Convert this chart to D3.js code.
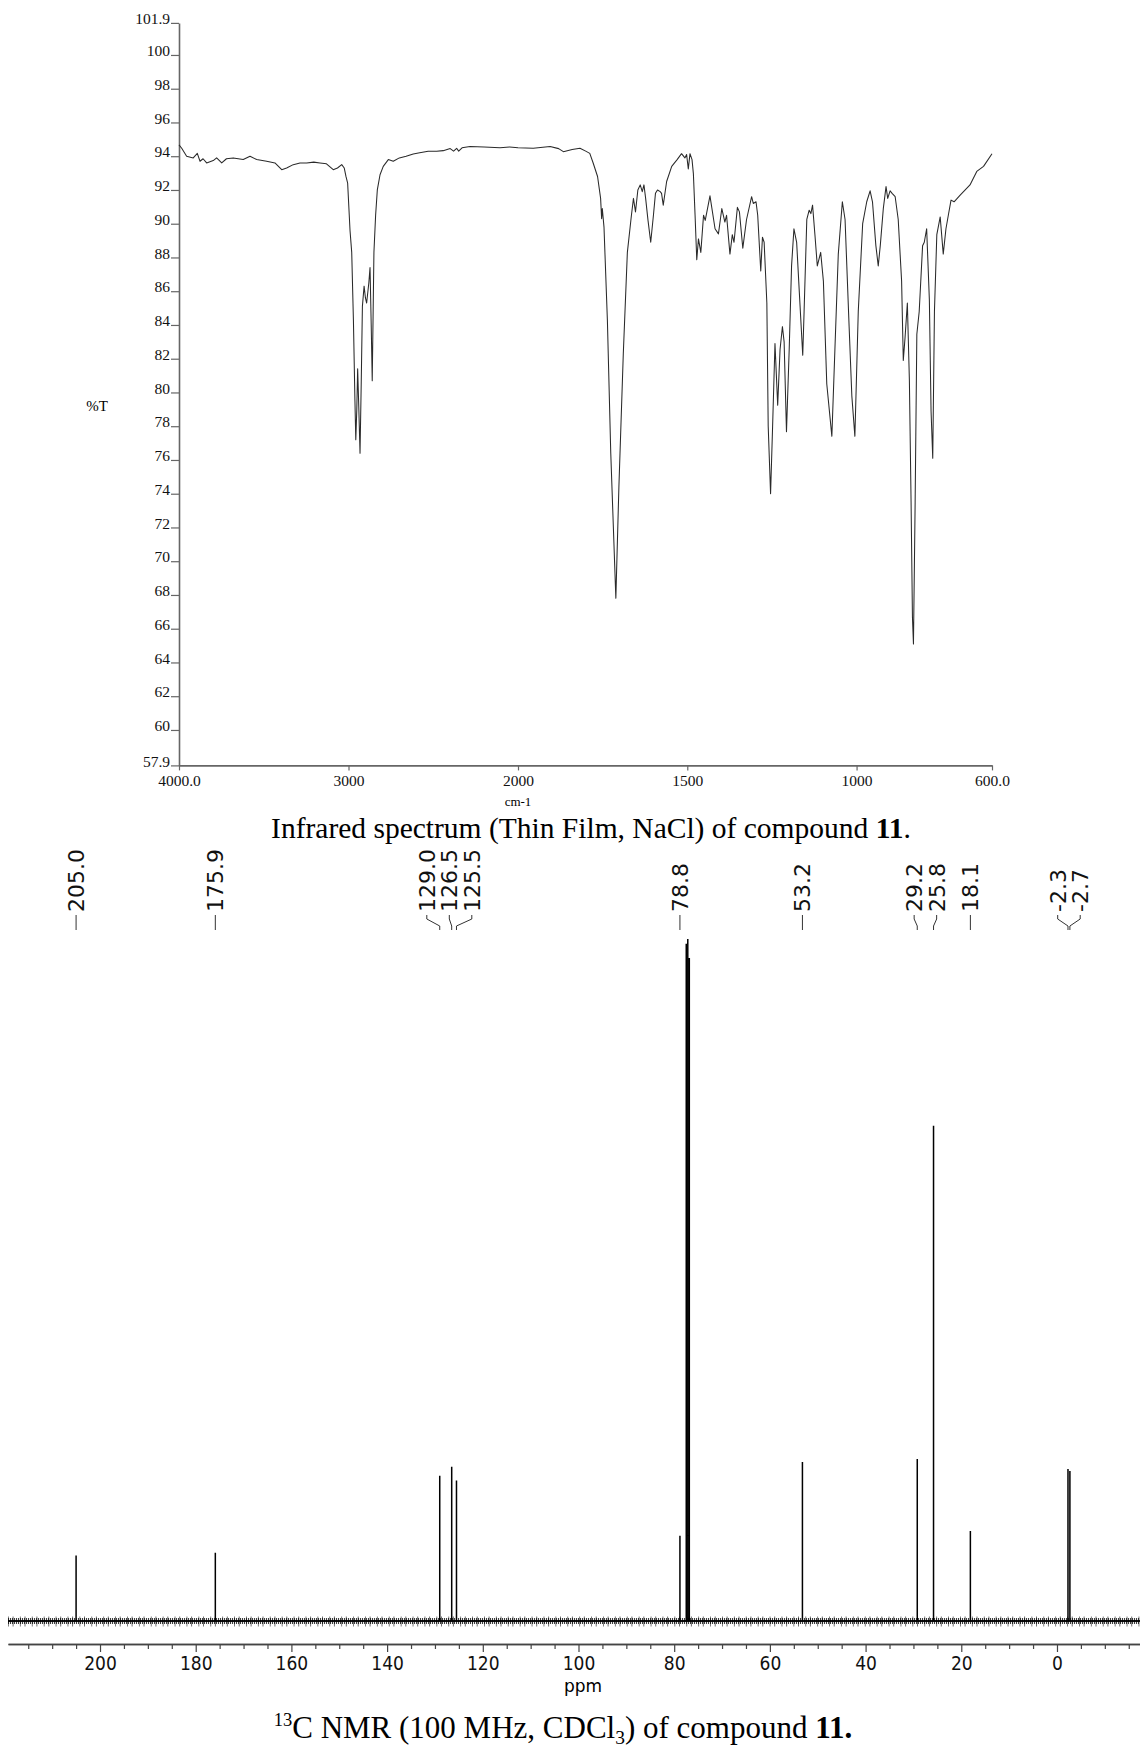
<!DOCTYPE html>
<html><head><meta charset="utf-8">
<script src="https://cdn.jsdelivr.net/npm/d3@7"></script>
<style>body{margin:0;background:#fff} svg{display:block}</style>
</head><body><svg id="c" width="1140" height="1760"></svg>
<script>
// ---------- IR spectrum data (cm-1, %T) ----------
const irWavenumbers = [4000,3984,3955,3916,3892,3876,3858,3837,3798,3778,3748,3720,3680,3621,3581,3542,3483,3434,3394,3365,3326,3286,3247,3205,3168,3130,3090,3065,3040,3025,3015,3005,2991,2981,2971,2962,2957,2951,2946,2939,2932,2925,2918,2908,2900,2893,2880,2873,2866,2860,2855,2850,2840,2830,2814,2795,2765,2736,2700,2660,2618,2580,2530,2480,2441,2400,2380,2362,2350,2330,2283,2200,2106,2050,2000,1955,1905,1880,1866,1840,1817,1800,1788,1778,1765,1756,1753,1751,1746,1736,1726,1711,1702,1689,1677,1665,1659,1653,1646,1639,1633,1628,1623,1616,1608,1600,1594,1588,1580,1576,1571,1561,1546,1530,1517,1507,1502,1497,1492,1486,1482,1477,1472,1467,1460,1452,1447,1433,1418,1408,1398,1389,1384,1374,1367,1362,1352,1346,1336,1325,1310,1305,1297,1292,1283,1278,1273,1265,1261,1254,1248,1241,1233,1226,1219,1214,1207,1199,1192,1185,1177,1169,1159,1155,1147,1140,1135,1130,1123,1116,1106,1098,1088,1073,1064,1054,1042,1034,1022,1014,1005,995,982,970,960,953,943,936,930,921,913,908,901,895,886,877,867,862,857,850,844,839,835,832,827,822,815,805,800,793,785,780,775,770,763,753,744,736,729,721,712,694,665,645,625,600];
const irTransmittance = [94.67,94.47,94.0,93.9,94.17,93.7,93.85,93.6,93.74,93.9,93.6,93.85,93.9,93.8,94.0,93.8,93.7,93.6,93.2,93.3,93.5,93.6,93.6,93.65,93.6,93.55,93.2,93.3,93.5,93.3,92.8,92.4,89.6,88.3,84.3,79.5,77.2,79.0,81.4,79.0,76.4,80.5,85.1,86.3,85.6,85.3,86.5,87.4,84.0,80.7,84.5,88.3,90.5,92.0,92.9,93.4,93.8,93.7,93.9,94.0,94.13,94.2,94.3,94.3,94.33,94.45,94.3,94.47,94.3,94.5,94.57,94.55,94.5,94.55,94.5,94.47,94.57,94.45,94.27,94.4,94.47,94.3,94.17,93.6,92.8,91.5,90.3,90.9,89.8,84.3,76.4,67.8,74.4,82.3,88.3,90.5,91.5,90.7,92.0,92.3,91.9,92.3,91.5,90.2,88.9,90.5,91.8,92.0,91.9,91.8,91.1,92.5,93.4,93.8,94.15,93.9,94.1,93.25,94.15,93.8,92.97,90.5,87.87,89.1,88.3,90.5,90.2,91.65,89.7,89.4,90.9,90.1,90.5,88.2,89.35,88.9,90.97,90.7,88.55,90.25,91.6,91.2,91.3,90.5,87.2,89.2,88.9,85.3,78.0,74.0,78.0,82.9,79.25,82.55,83.9,83.0,77.67,82.55,87.5,89.7,88.9,85.9,82.2,84.8,90.25,90.8,90.6,91.1,89.35,87.5,88.3,86.6,80.5,77.4,82.55,88.2,91.3,90.25,83.9,79.8,77.4,84.8,90.0,91.3,91.95,91.3,88.7,87.5,88.7,90.9,92.2,91.5,91.95,91.8,91.6,90.25,86.6,81.9,83.2,85.3,80.7,73.5,66.7,65.1,73.5,83.45,84.8,88.7,88.9,89.7,85.5,78.9,76.1,84.8,89.35,90.4,88.2,89.7,90.5,91.4,91.3,91.7,92.3,93.1,93.4,94.15];
const irTickValuesX = [4000,3000,2000,1500,1000,600];
const irTickLabelsX = ["4000.0","3000","2000","1500","1000","600.0"];
const irTickValuesY = [57.9,60,62,64,66,68,70,72,74,76,78,80,82,84,86,88,90,92,94,96,98,100,101.9];
const irTickLabelsY = ["57.9","60","62","64","66","68","70","72","74","76","78","80","82","84","86","88","90","92","94","96","98","100","101.9"];

// ---------- 13C NMR data (ppm, relative intensity) ----------
const nmrPeakPpm    = [205.0,175.9,129.0,126.5,125.5,78.8,77.48,77.16,76.84,53.2,29.2,25.8,18.1,-2.3,-2.7];
const nmrPeakHeight = [9.6,10.0,21.3,22.6,20.6,12.5,99.3,100,97.2,23.3,23.75,72.6,13.2,22.3,22.0];
const nmrLabelPpm   = [205.0,175.9,129.0,126.5,125.5,78.8,53.2,29.2,25.8,18.1,-2.3,-2.7];
const nmrLabelText  = ["205.0","175.9","129.0","126.5","125.5","78.8","53.2","29.2","25.8","18.1","-2.3","-2.7"];
const nmrMajorTicks = [200,180,160,140,120,100,80,60,40,20,0];
const nmrMinorTicks = [215,210,205,195,190,185,175,170,165,155,150,145,135,130,125,115,110,105,95,90,85,75,70,65,55,50,45,35,30,25,15,10,5,-5,-10,-15];

const svg = d3.select('#c');
const serif = "'Liberation Serif','Times New Roman',serif";
const sans = "'DejaVu Sans',Verdana,sans-serif";

// ================= IR =================
const irX = d3.scaleLinear().domain([4000,2000,600]).range([179,518,992]);
const irY = d3.scaleLinear().domain([57.9,101.9]).range([765.4,22.9]);

const gIR = svg.append('g');
const yAx = gIR.append('g').attr('transform','translate(179,0)')
  .call(d3.axisLeft(irY).tickValues(irTickValuesY).tickFormat((d,i)=>irTickLabelsY[i]).tickSize(8).tickSizeOuter(0).tickPadding(1));
const xAx = gIR.append('g').attr('transform','translate(0,765.4)')
  .call(d3.axisBottom(irX).tickValues(irTickValuesX).tickFormat((d,i)=>irTickLabelsX[i]).tickSize(5).tickSizeOuter(0).tickPadding(5));
[yAx,xAx].forEach(a=>{
  a.select('.domain').attr('stroke','#666').attr('stroke-width',1.6);
  a.selectAll('.tick line').attr('stroke','#666').attr('stroke-width',1.2);
  a.selectAll('text').attr('font-family',serif).attr('font-size',15.5).attr('fill','#111');
});
yAx.selectAll('text').attr('dy','0.05em');

gIR.append('text').attr('x',97).attr('y',411).attr('text-anchor','middle')
  .attr('font-family',serif).attr('font-size',15).text('%T');
gIR.append('text').attr('x',518).attr('y',806).attr('text-anchor','middle')
  .attr('font-family',serif).attr('font-size',13).text('cm-1');

const irData = irWavenumbers.map((w,i)=>[w, irTransmittance[i]]);
gIR.append('path').datum(irData)
  .attr('fill','none').attr('stroke','#2a2a2a').attr('stroke-width',1.05).attr('stroke-linejoin','round')
  .attr('d', d3.line().x(d=>irX(d[0])).y(d=>irY(d[1])));

const cap1 = svg.append('text').attr('x',591).attr('y',838).attr('text-anchor','middle')
  .attr('font-family',serif).attr('font-size',29.5).attr('fill','#000');
cap1.append('tspan').text('Infrared spectrum (Thin Film, NaCl) of compound ');
cap1.append('tspan').attr('font-weight','bold').text('11');
cap1.append('tspan').text('.');

// ================= NMR =================
const nx = d3.scaleLinear().domain([219.23,-17.35]).range([8,1140]);
const ny = d3.scaleLinear().domain([0,100]).range([1621,939]);

const gN = svg.append('g');
// baseline noise texture (decorative stroke pattern)
gN.append('line').attr('x1',nx(219.23)).attr('x2',nx(-17.35)).attr('y1',ny(0)).attr('y2',ny(0))
  .attr('stroke','#000').attr('stroke-width',6).attr('stroke-dasharray','1.1 0.9').attr('opacity',0.75);
gN.append('line').attr('x1',nx(219.23)).attr('x2',nx(-17.35)).attr('y1',ny(0)+0.5).attr('y2',ny(0)+0.5)
  .attr('stroke','#000').attr('stroke-width',10).attr('stroke-dasharray','0.9 3.7 1 6.3').attr('opacity',0.55);
gN.append('line').attr('x1',nx(219.23)).attr('x2',nx(-17.35)).attr('y1',ny(0)).attr('y2',ny(0))
  .attr('stroke','#000').attr('stroke-width',1.5);

const peaks = nmrPeakPpm.map((p,i)=>[p,nmrPeakHeight[i]]).sort((a,b)=>b[0]-a[0]);
const pts = [[219.23,0]];
peaks.forEach(([p,h])=>{ pts.push([p,0],[p,h],[p,0]); });
pts.push([-17.35,0]);
gN.append('path').datum(pts).attr('fill','none').attr('stroke','#000').attr('stroke-width',1.5)
  .attr('d', d3.line().x(d=>nx(d[0])).y(d=>ny(d[1])));

// axis
const axY = 1644;
const minorAx = gN.append('g').attr('transform',`translate(0,${axY})`)
  .call(d3.axisBottom(nx).tickValues(nmrMinorTicks).tickFormat('').tickSize(5).tickSizeOuter(0));
const majorAx = gN.append('g').attr('transform',`translate(0,${axY})`)
  .call(d3.axisBottom(nx).tickValues(nmrMajorTicks).tickFormat(d3.format('d')).tickSize(8).tickSizeOuter(0).tickPadding(5));
[minorAx,majorAx].forEach(a=>{
  a.select('.domain').attr('stroke','#444').attr('stroke-width',1.6);
  a.selectAll('.tick line').attr('stroke','#444').attr('stroke-width',1.2);
});
majorAx.selectAll('text').attr('font-family',"'DejaVu Sans Condensed','DejaVu Sans',sans-serif")
  .style('font-stretch','condensed').attr('font-size',19).attr('fill','#111');
gN.append('text').attr('x',583).attr('y',1692).attr('text-anchor','middle')
  .attr('font-family',sans).attr('font-size',17).text('ppm');

// peak labels with spreading
const gap = 22.5;
let items = nmrLabelPpm.map((p,i)=>({p, t:nmrLabelText[i], x0:nx(p)})).sort((a,b)=>a.x0-b.x0);
let groups = items.map(it=>({m:[it]}));
const center = g => d3.mean(g.m, d=>d.x0);
let changed = true;
while(changed){
  changed=false;
  for(let i=0;i<groups.length-1;i++){
    const a=groups[i], b=groups[i+1];
    const aR = center(a)+(a.m.length-1)/2*gap, bL = center(b)-(b.m.length-1)/2*gap;
    if(bL-aR < gap){ a.m = a.m.concat(b.m); groups.splice(i+1,1); changed=true; break; }
  }
}
groups.forEach(g=>{ const c=center(g); g.m.forEach((it,k)=>{ it.x = c+(k-(g.m.length-1)/2)*gap; }); });

const textStart = 912, c1 = 915, c2 = 919, c3 = 926, c4 = 930;
items.forEach(it=>{
  gN.append('text').attr('transform',`translate(${it.x},${textStart}) rotate(-90)`)
    .attr('dy','0.36em').attr('font-family',sans).attr('font-size',22).attr('fill','#111').text(it.t);
  const path = Math.abs(it.x-it.x0)<1
    ? [[it.x,c1],[it.x,c4]]
    : [[it.x,c1],[it.x,c2],[it.x0,c3],[it.x0,c4]];
  gN.append('path').attr('d',d3.line()(path)).attr('fill','none').attr('stroke','#333').attr('stroke-width',1);
});

const cap2 = svg.append('text').attr('x',563).attr('y',1738).attr('text-anchor','middle')
  .attr('font-family',serif).attr('font-size',31).attr('fill','#000');
cap2.append('tspan').attr('font-size',18.5).attr('dy',-12).text('13');
cap2.append('tspan').attr('dy',12).text('C NMR (100 MHz, CDCl');
cap2.append('tspan').attr('font-size',19.5).attr('dy',6).text('3');
cap2.append('tspan').attr('dy',-6).text(') of compound ');
cap2.append('tspan').attr('font-weight','bold').text('11.');
</script></body></html>
